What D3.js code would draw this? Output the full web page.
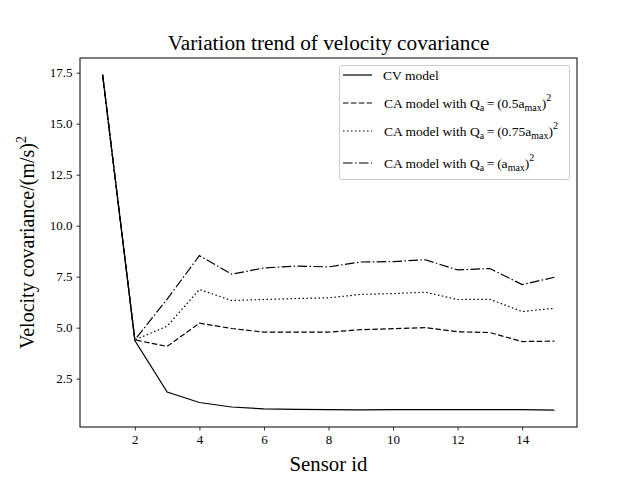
<!DOCTYPE html>
<html>
<head>
<meta charset="utf-8">
<script src="https://cdn.jsdelivr.net/npm/d3@7"></script>
<style>
  body { margin: 0; background: #fff; }
  text { font-family: "Liberation Serif", "DejaVu Serif", serif; }
</style>
</head>
<body>
<div id="wrapper"></div>
<script>
// data
const sensorIds = [1, 2, 3, 4, 5, 6, 7, 8, 9, 10, 11, 12, 13, 14, 15];
const cvModel   = [17.4, 4.37, 1.84, 1.33, 1.11, 1.02, 0.99, 0.98, 0.97, 0.98, 0.98, 0.98, 0.98, 0.98, 0.96];
const caHalf    = [17.4, 4.4, 4.08, 5.22, 4.96, 4.78, 4.78, 4.78, 4.9, 4.95, 5.0, 4.8, 4.76, 4.32, 4.34];
const caThree   = [17.4, 4.4, 5.07, 6.87, 6.33, 6.38, 6.43, 6.46, 6.63, 6.67, 6.74, 6.38, 6.39, 5.79, 5.95];
const caFull    = [17.4, 4.4, 6.4, 8.53, 7.62, 7.93, 8.02, 7.98, 8.22, 8.24, 8.33, 7.83, 7.9, 7.11, 7.47];
const xTicks = [2, 4, 6, 8, 10, 12, 14];
const yTicks = [2.5, 5.0, 7.5, 10.0, 12.5, 15.0, 17.5];

const series = [
  { values: cvModel, dash: null, label: "cv" },
  { values: caHalf, dash: "5.5,2.4", label: "0.5a" },
  { values: caThree, dash: "1.5,2.5", label: "0.75a" },
  { values: caFull, dash: "9.6,2.4,1.5,2.4", label: "a" }
];

const dimension = {
  width: 640,
  height: 480,
  margin: { top: 58, left: 80, bottom: 53, right: 63 }
};
dimension.boundedWidth = dimension.width - dimension.margin.left - dimension.margin.right;
dimension.boundedHeight = dimension.height - dimension.margin.top - dimension.margin.bottom;

const svg = d3.select("#wrapper")
  .append("svg")
  .attr("width", dimension.width)
  .attr("height", dimension.height);

const bounds = svg.append("g")
  .attr("transform", `translate(${dimension.margin.left},${dimension.margin.top})`);

const xScaler = d3.scaleLinear()
  .domain([0.3, 15.7])
  .range([0, dimension.boundedWidth]);

const yScaler = d3.scaleLinear()
  .domain([0.13, 18.22])
  .range([dimension.boundedHeight, 0]);

// axes
const xAxis = bounds.append("g")
  .attr("transform", `translate(0,${dimension.boundedHeight})`)
  .call(d3.axisBottom(xScaler).tickValues(xTicks).tickSize(3.5).tickPadding(4).tickFormat(d3.format("d")));
const yAxis = bounds.append("g")
  .call(d3.axisLeft(yScaler).tickValues(yTicks).tickSize(3.5).tickPadding(4).tickFormat(d3.format(".1f")));

[xAxis, yAxis].forEach(ax => {
  ax.select(".domain").remove();
  ax.selectAll("line").attr("stroke", "#000").attr("stroke-width", 0.8);
  ax.selectAll("text").attr("font-size", "13px").attr("font-family", "Liberation Serif").attr("fill", "#000");
});

bounds.append("rect")
  .attr("width", dimension.boundedWidth)
  .attr("height", dimension.boundedHeight)
  .attr("fill", "none")
  .attr("stroke", "#000")
  .attr("stroke-width", 1);

// lines
const lineGen = d3.line()
  .x((d, i) => xScaler(sensorIds[i]))
  .y(d => yScaler(d));

bounds.selectAll(".series")
  .data(series)
  .enter()
  .append("path")
  .attr("d", d => lineGen(d.values))
  .attr("fill", "none")
  .attr("stroke", "#000")
  .attr("stroke-width", 1.2)
  .attr("stroke-dasharray", d => d.dash);

// title and labels
svg.append("text")
  .attr("x", dimension.margin.left + dimension.boundedWidth / 2)
  .attr("y", 50)
  .attr("text-anchor", "middle")
  .attr("font-size", "21.3px")
  .text("Variation trend of velocity covariance");

svg.append("text")
  .attr("x", dimension.margin.left + dimension.boundedWidth / 2)
  .attr("y", 471)
  .attr("text-anchor", "middle")
  .attr("font-size", "20.8px")
  .text("Sensor id");

const yLabel = svg.append("text")
  .attr("transform", `translate(34,${dimension.margin.top + dimension.boundedHeight / 2}) rotate(-90)`)
  .attr("text-anchor", "middle")
  .attr("font-size", "20px");
yLabel.append("tspan").text("Velocity covariance/(m/s)");
yLabel.append("tspan").attr("dy", -8).attr("font-size", "14px").text("2");

// legend
const legend = svg.append("g");
legend.append("rect")
  .attr("x", 339.5)
  .attr("y", 65.5)
  .attr("width", 230)
  .attr("height", 114)
  .attr("rx", 2)
  .attr("fill", "#fff")
  .attr("fill-opacity", 0.8)
  .attr("stroke", "#ccc")
  .attr("stroke-width", 1);

const rowY = [75, 103, 131, 163];
series.forEach((s, i) => {
  legend.append("line")
    .attr("x1", 343).attr("x2", 372)
    .attr("y1", rowY[i]).attr("y2", rowY[i])
    .attr("stroke", "#000")
    .attr("stroke-width", 1.2)
    .attr("stroke-dasharray", s.dash);

  const t = legend.append("text")
    .attr("x", i === 0 ? 383 : 384)
    .attr("y", rowY[i] + 4.5)
    .attr("font-size", "13.5px");
  if (i === 0) {
    t.text("CV model");
    return;
  }
  t.append("tspan").text("CA model with Q");
  t.append("tspan").attr("dy", 3).attr("font-size", "10px").text("a");
  t.append("tspan").attr("dy", -3).text("\u2009=\u2009");
  if (s.label === "a") {
    t.append("tspan").text("(a");
  } else if (s.label === "0.5a") {
    t.append("tspan").text("(0.5a");
  } else {
    t.append("tspan").text("(0.75a");
  }
  t.append("tspan").attr("dy", 3).attr("font-size", "10px").text("max");
  t.append("tspan").attr("dy", -3).text(")");
  t.append("tspan").attr("dy", -7).attr("font-size", "10px").text("2");
});
</script>
</body>
</html>
